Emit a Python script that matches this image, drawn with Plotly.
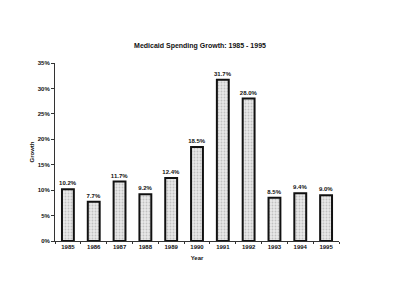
import plotly.graph_objects as go

years = ["1985", "1986", "1987", "1988", "1989", "1990", "1991", "1992", "1993", "1994", "1995"]
growth = [10.2, 7.7, 11.7, 9.2, 12.4, 18.5, 31.7, 28.0, 8.5, 9.4, 9.0]
labels = ["10.2%", "7.7%", "11.7%", "9.2%", "12.4%", "18.5%", "31.7%", "28.0%", "8.5%", "9.4%", "9.0%"]

font = "Liberation Sans, Arial, sans-serif"

def f(size=6):
    return dict(family=font, size=size, color="#111", weight="bold")

fig = go.Figure()
fig.add_trace(go.Bar(
    x=years, y=growth, text=labels, textposition="outside",
    textfont=f(6), constraintext="none",
    cliponaxis=False,
    width=0.46,
    marker=dict(color="#dcdcdc",
                line=dict(color="#111", width=2),
                pattern=dict(shape=".", fgcolor="#9a9a9a", bgcolor="#e8e8e8", size=3, solidity=0.3)),
))

fig.update_layout(
    width=400, height=306,
    margin=dict(l=55, r=61, t=63, b=65),
    paper_bgcolor="white", plot_bgcolor="white",
    showlegend=False,
    title=dict(text="Medicaid Spending Growth: 1985 - 1995", x=0.5, xanchor="center",
               y=1 - 46 / 306, yanchor="middle", font=f(7)),
    font=f(6),
)
fig.update_xaxes(
    type="category", range=[-0.5, 10.5],
    showline=True, linecolor="#333", linewidth=1,
    ticks="outside", tickson="boundaries", ticklen=2, tickcolor="#333",
    tickfont=f(6),
    title=dict(text="Year", font=f(6), standoff=6),
    showgrid=False,
)
fig.update_yaxes(
    range=[0, 35], dtick=5, ticksuffix="%",
    showline=True, linecolor="#333", linewidth=1,
    ticks="outside", ticklen=3, tickcolor="#333",
    tickfont=f(6),
    title=dict(text="Growth", font=f(6), standoff=2),
    showgrid=False, zeroline=False,
)

fig.write_html("out.html")
